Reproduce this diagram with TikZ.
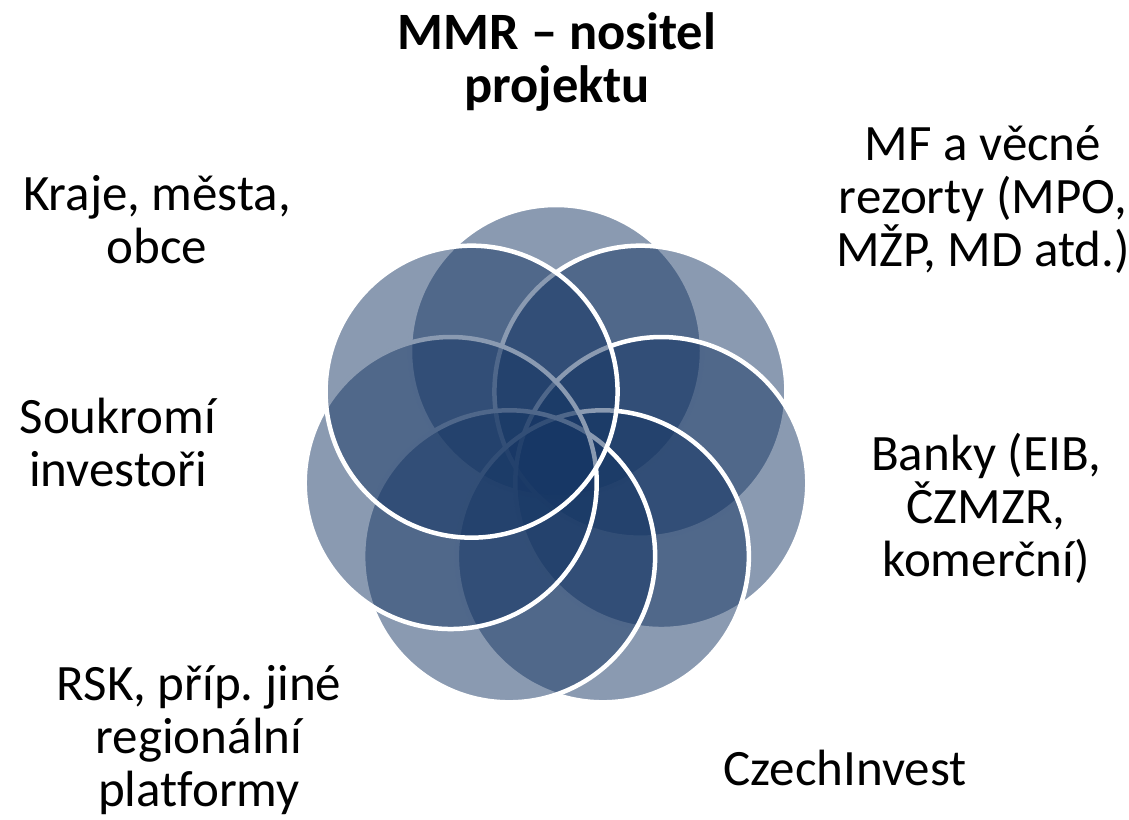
\documentclass[tikz,border=0pt]{standalone}
\usepackage{fontspec}
\setmainfont{Carlito}[Ligatures=NoCommon]
\usepackage{tikz}
\usetikzlibrary{calc}
\definecolor{petalblue}{RGB}{22,54,100}
\newcommand{\lnup}{\rule{0pt}{42pt}}
\setlength{\lineskiplimit}{-100pt}
\frenchspacing

\begin{document}
\begin{tikzpicture}[x=1pt, y=-1pt,
    petal/.style={circle, inner sep=0pt, minimum size=292pt, fill=petalblue,
      fill opacity=0.5, draw=white, line width=4.5pt},
    lbl/.style={font=\fontsize{51}{53}\selectfont,
      align=center, anchor=north, inner sep=0pt, text=black}]
    \def \n {7}
    \def \ringradius {108} % distance of the petal centres from the hub
    \useasboundingbox (0,0) rectangle (1129,819);
    \coordinate (hub) at (556,459);
    \foreach \s in {0,...,6}
    {
      \node[petal] (petal\s) at ($(hub)+({-90+360/\n*\s}:\ringradius)$) {};
    }
    \node[lbl, font=\fontsize{52.5}{53}\selectfont\bfseries]
      (owner) at (557,7) {\lnup MMR – nositel\\projektu};
    \node[lbl] (regions) at (157,168) {\lnup Kraje, města,\\obce};
    \node[lbl] (ministries) at (983,118) {\lnup MF a věcné\\rezorty (MPO,\\MŽP, MD atd.)};
    \node[lbl] (investors) at (118,391) {\lnup Soukromí\\investoři};
    \node[lbl] (banks) at (986,428) {\lnup Banky (EIB,\\ČZMZR,\\komerční)};
    \node[lbl] (platforms) at (199,658) {\lnup RSK, příp. jiné\\regionální\\platformy};
    \node[lbl] (agency) at (845,743) {\lnup CzechInvest};
\end{tikzpicture}
\end{document}
